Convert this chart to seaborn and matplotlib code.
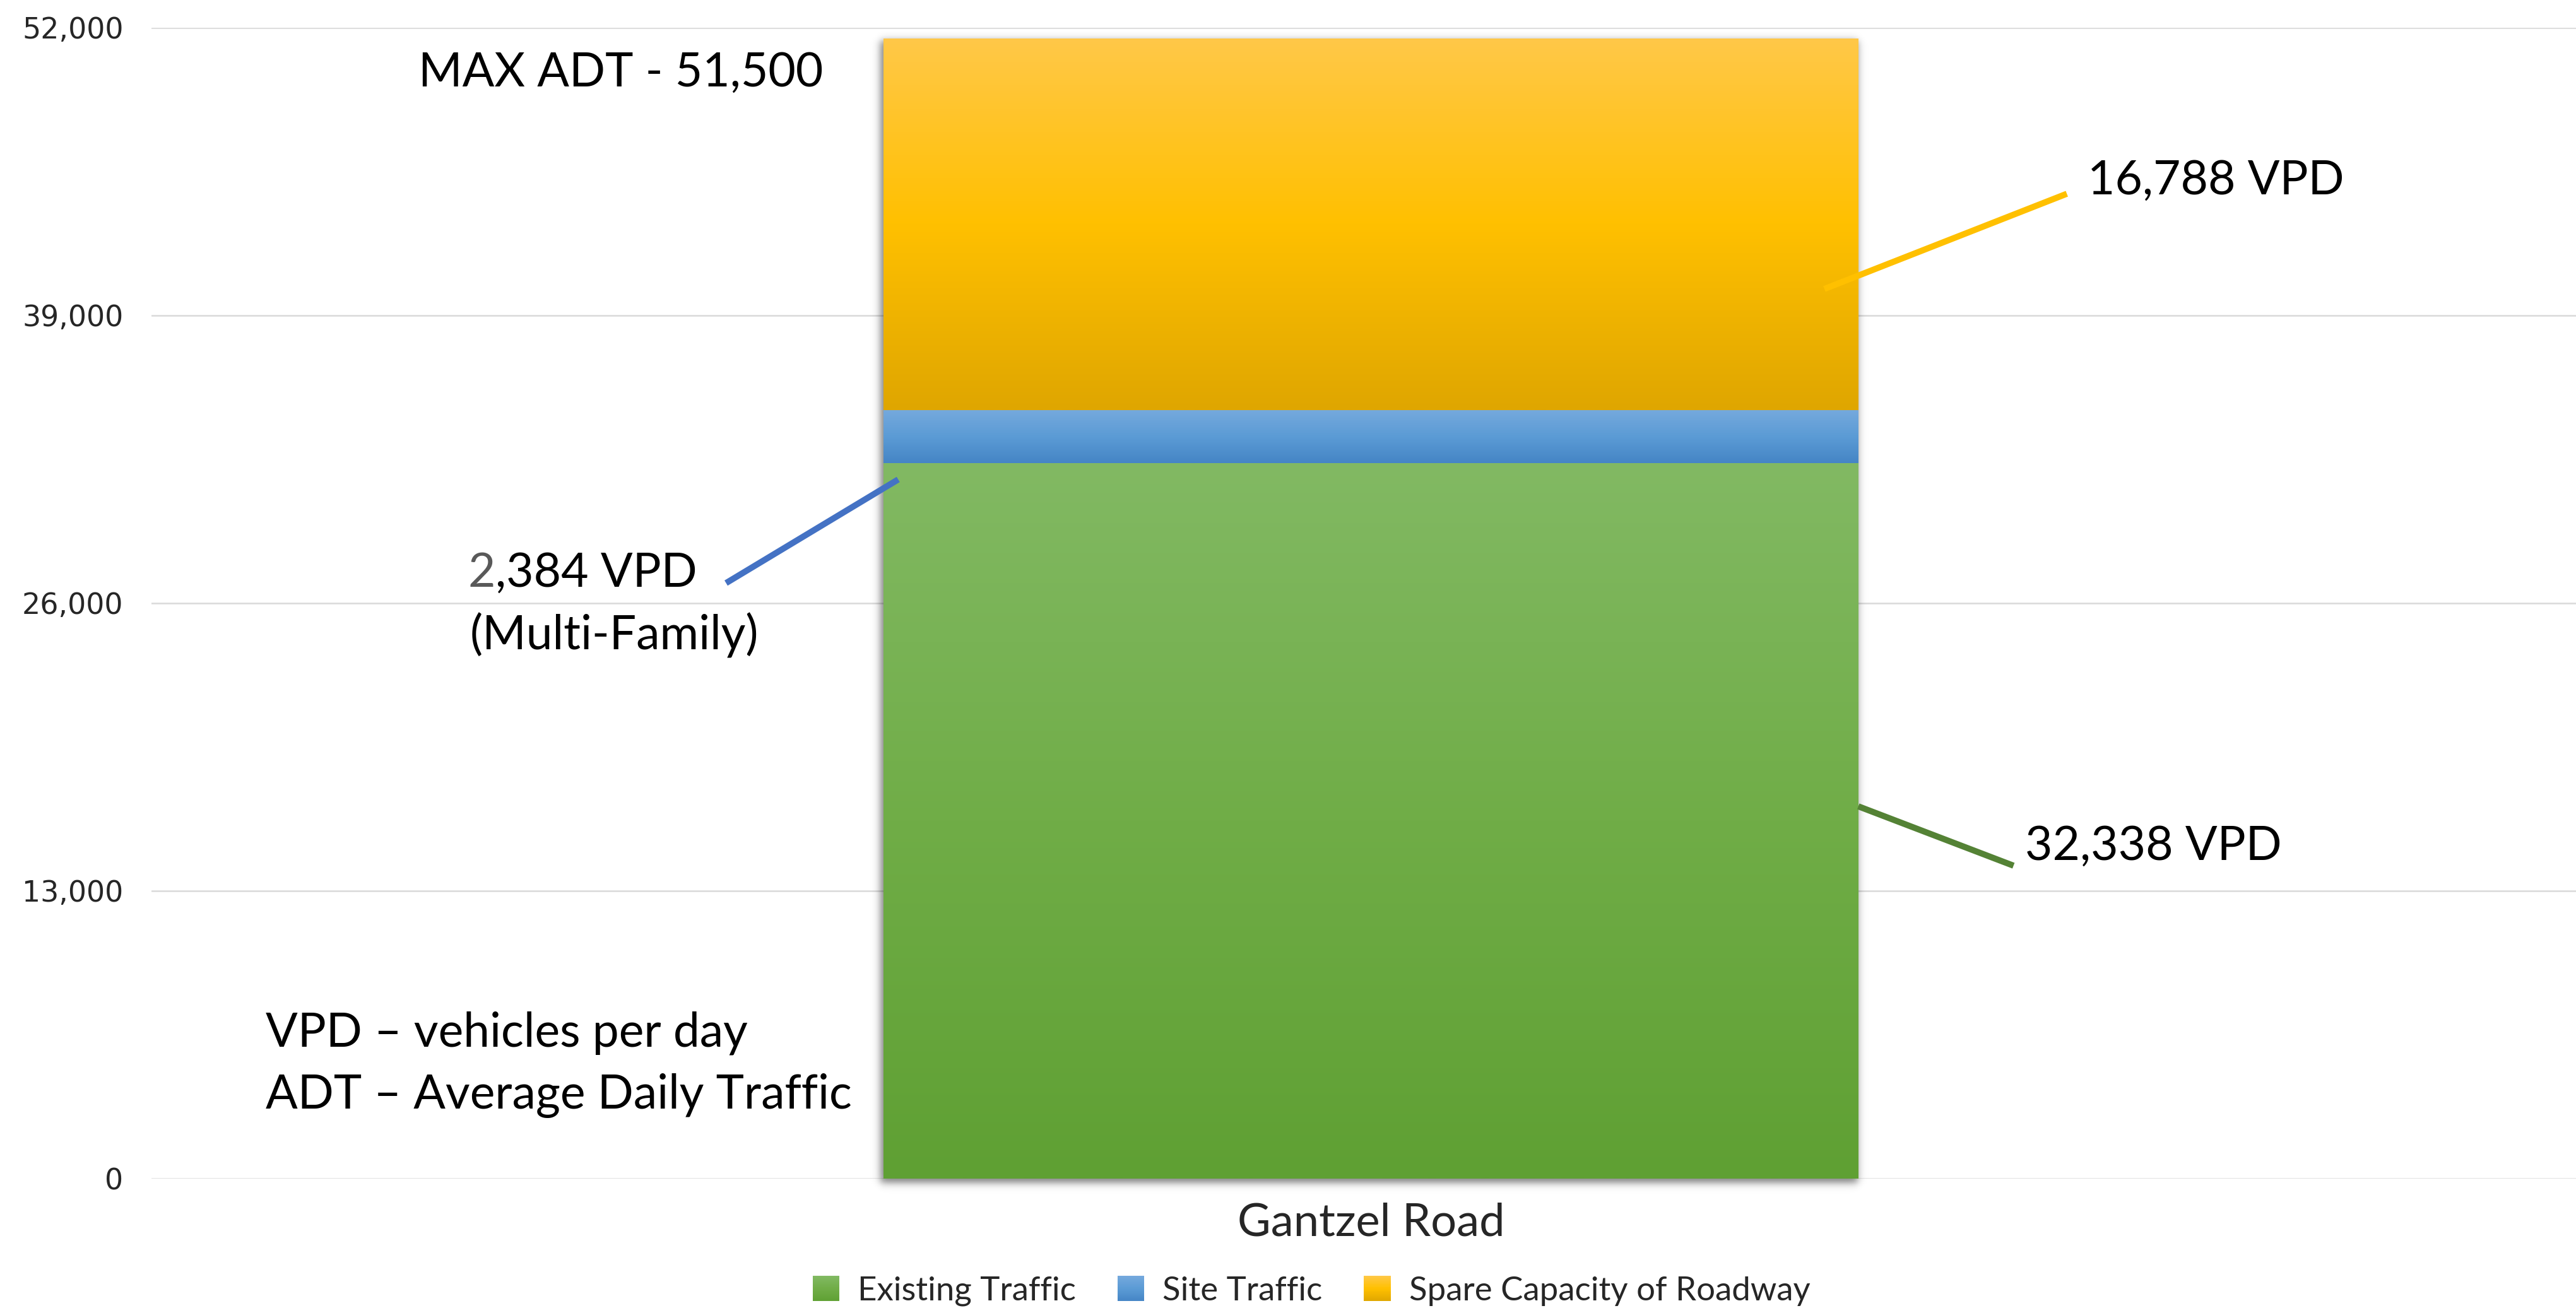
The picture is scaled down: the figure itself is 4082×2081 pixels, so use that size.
import numpy as np
import matplotlib
matplotlib.use("Agg")
import matplotlib.pyplot as plt
import seaborn as sns
from matplotlib.colors import LinearSegmentedColormap
from matplotlib.legend_handler import HandlerBase
from matplotlib.patches import Rectangle
from matplotlib.ticker import FuncFormatter

# ---- data -------------------------------------------------------------
roads = ["Gantzel Road"]
series = ["Existing Traffic", "Site Traffic", "Spare Capacity of Roadway"]
existing = [32338]
site = [2384]
spare = [16788]
max_adt = 51500
y_ticks = [0, 13000, 26000, 39000, 52000]

# gradient stops (top, middle, bottom) for each series
shades = {
    "Existing Traffic": ("#82B963", "#70AD47", "#5FA033"),
    "Site Traffic": ("#75A9DD", "#5B9BD5", "#4585C5"),
    "Spare Capacity of Roadway": ("#FFC848", "#FFC000", "#DFA600"),
}
leader_colors = {
    "Existing Traffic": "#548235",
    "Site Traffic": "#4472C4",
    "Spare Capacity of Roadway": "#FFC000",
}

values = {"Existing Traffic": existing, "Site Traffic": site,
          "Spare Capacity of Roadway": spare}
tops = np.cumsum([values[s] for s in series], axis=0)
bottoms = tops - np.array([values[s] for s in series])

# ---- figure -----------------------------------------------------------
sns.set_theme(style="white")
plt.rcParams["font.family"] = ["Lato", "DejaVu Sans"]
TXT = dict(family=["Lato", "DejaVu Sans"], fontsize=54, color="black")

W, H = 4082, 2081
fig = plt.figure(figsize=(W / 100, H / 100), dpi=100)
ax = fig.add_axes([240 / W, 1 - 1868 / H, 1 - 240 / W, (1868 - 44) / H])

# stacked bars: draw cumulative totals from the tallest down
bar_geom = {}
for i in reversed(range(len(series))):
    name = series[i]
    n_before = len(ax.patches)
    sns.barplot(x=roads, y=tops[i], color=shades[name][1], width=0.402,
                saturation=1, edgecolor="none", ax=ax, zorder=3)
    p = ax.patches[n_before]
    bar_geom[name] = (p.get_x(), p.get_x() + p.get_width())

ax.set_xlim(-0.503, 0.497)
ax.set_ylim(0, 52000)

# soft shadow around the whole column
x0, x1 = bar_geom[series[0]]
total = tops[-1][0]
px_x = (0.497 + 0.503) / (W - 240)
px_y = 52000 / (1868 - 44)
pad = 40
gx = np.linspace(x0 - pad * px_x, x1 + pad * px_x, 600)
gy = np.linspace(-pad * px_y, total + pad * px_y, 600)
sx, sy, off_x, off_y, blur = -3, -5, 3, 3, 7.0
fx = 0.5 * (np.tanh((gx - (x0 + sx * px_x - off_x * px_x)) / (blur * px_x))
            - np.tanh((gx - (x1 + sx * px_x + off_x * px_x)) / (blur * px_x)))
fy = 0.5 * (np.tanh((gy - (0 + sy * px_y - off_y * px_y)) / (blur * px_y))
            - np.tanh((gy - (total + sy * px_y + off_y * px_y)) / (blur * px_y)))
alpha = np.outer(fy[::-1], fx) * 0.5
shadow = np.zeros((len(gy), len(gx), 4))
shadow[..., 3] = alpha
im = ax.imshow(shadow, extent=(gx[0], gx[-1], gy[0], gy[-1]), aspect="auto",
               zorder=2, interpolation="bilinear")
im.set_clip_on(False)

# vertical gradient fill on every segment
for i, name in enumerate(series):
    top_c, mid_c, bot_c = shades[name]
    cmap = LinearSegmentedColormap.from_list(name, [top_c, mid_c, bot_c])
    grad = cmap(np.linspace(0, 1, 256))[:, None, :]
    bx0, bx1 = bar_geom[name]
    ax.imshow(grad, extent=(bx0, bx1, bottoms[i][0], tops[i][0]),
              aspect="auto", zorder=4, interpolation="bilinear")
ax.set_xlim(-0.503, 0.497)
ax.set_ylim(0, 52000)

# axes styling
sns.despine(ax=ax, left=True, bottom=True)
ax.set_axisbelow(True)
ax.yaxis.grid(True, color="#D9D9D9", lw=1.8)
ax.xaxis.grid(False)
ax.set_yticks(y_ticks)
ax.yaxis.set_major_formatter(FuncFormatter(lambda v, _: f"{int(v):,}"))
ax.tick_params(axis="y", length=0, pad=32, labelsize=33)
for lab in ax.get_yticklabels():
    lab.set_family("DejaVu Sans")
ax.tick_params(axis="x", length=0, pad=27)
for lab in ax.get_xticklabels():
    lab.set_fontsize(52)
    lab.set_family(["Lato", "DejaVu Sans"])
ax.set_xlabel("")
ax.set_ylabel("")

# ---- leader lines and labels -------------------------------------------
def leader(name, p_bar, p_far):
    ax.plot([p_bar[0], p_far[0]], [p_bar[1], p_far[1]],
            color=leader_colors[name], lw=7, solid_capstyle="butt",
            zorder=6, clip_on=False)

leader("Spare Capacity of Roadway", (0.187, 40200), (0.287, 44500))
ax.text(0.2955, 45100, f"{spare[0]:,} VPD", ha="left", va="center", **TXT)

leader("Existing Traffic", (0.201, 16820), (0.265, 14140))
ax.text(0.2697, 15024, f"{existing[0]:,} VPD", ha="left", va="center", **TXT)

leader("Site Traffic", (-0.195, 31590), (-0.266, 26910))
site_str = f"{site[0]:,} VPD"
rest = ax.text(-0.278, 27368, site_str[1:], ha="right", va="center", **TXT)
ax.annotate(site_str[0], xy=(0, 0), xycoords=rest, ha="right", va="bottom",
            family=["Lato", "DejaVu Sans"], fontsize=54, color="#595959")
ax.text(-0.312, 24546, "(Multi-Family)", ha="center", va="center", **TXT)

ax.text(-0.393, 49977, f"MAX ADT - {max_adt:,}", ha="left", va="center", **TXT)
ax.text(-0.456, 6586, "VPD \u2013 vehicles per day", ha="left", va="center", **TXT)
ax.text(-0.456, 3763, "ADT \u2013 Average Daily Traffic", ha="left", va="center", **TXT)

# ---- legend with gradient swatches --------------------------------------
class GradientSwatch(HandlerBase):
    def __init__(self, stops):
        super().__init__()
        self.cmap = LinearSegmentedColormap.from_list("sw", list(stops)[::-1])

    def create_artists(self, legend, orig_handle, xdescent, ydescent,
                       width, height, fontsize, trans):
        n = 24
        arts = []
        for k in range(n):
            arts.append(Rectangle((-xdescent, -ydescent + height * k / n),
                                  width, height / n * 1.08,
                                  facecolor=self.cmap((k + 0.5) / n),
                                  edgecolor="none", transform=trans))
        return arts

handles = [Rectangle((0, 0), 1, 1, facecolor=shades[s][1]) for s in series]
fig.legend(handles, series, loc="center", bbox_to_anchor=(2078 / W, 1 - 2046 / H),
           ncol=3, frameon=False, prop={"family": ["Lato", "DejaVu Sans"], "size": 38},
           handlelength=0.8, handleheight=0.8, handletextpad=0.55,
           columnspacing=1.25,
           handler_map={h: GradientSwatch(shades[s]) for h, s in zip(handles, series)})

fig.savefig("out.png", dpi=100)
